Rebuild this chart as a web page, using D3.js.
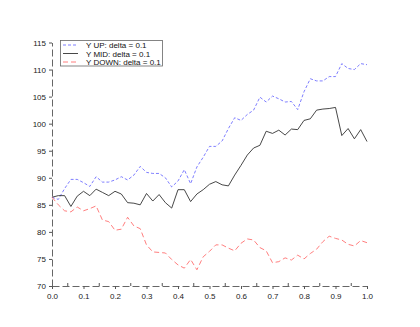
<!DOCTYPE html>
<html>
<head>
<meta charset="utf-8">
<script src="https://cdn.jsdelivr.net/npm/d3@7"></script>
<style>
  body { margin: 0; background: #fff; }
  text { font-family: "Liberation Sans", Arial, sans-serif; }
</style>
</head>
<body>
<script>
// x positions of the samples (step 0.02)
var xs = [0.00, 0.02, 0.04, 0.06, 0.08, 0.10, 0.12, 0.14, 0.16, 0.18,
          0.20, 0.22, 0.24, 0.26, 0.28, 0.30, 0.32, 0.34, 0.36, 0.38,
          0.40, 0.42, 0.44, 0.46, 0.48, 0.50, 0.52, 0.54, 0.56, 0.58,
          0.60, 0.62, 0.64, 0.66, 0.68, 0.70, 0.72, 0.74, 0.76, 0.78,
          0.80, 0.82, 0.84, 0.86, 0.88, 0.90, 0.92, 0.94, 0.96, 0.98, 1.00];

var yUp = [86.4, 86.0, 88.0, 89.7, 89.7, 89.1, 88.4, 90.2, 89.2, 89.2,
           89.6, 90.2, 89.6, 90.5, 92.1, 91.0, 90.8, 90.8, 90.0, 88.3,
           89.4, 91.5, 88.9, 92.0, 93.8, 95.8, 95.8, 96.8, 99.1, 101.1,
           100.6, 101.7, 102.5, 104.9, 104.0, 105.1, 104.6, 104.0, 104.1, 102.6,
           105.9, 108.3, 107.9, 107.9, 108.7, 108.7, 111.1, 110.2, 110.0, 111.1, 110.9];

var yMid = [86.4, 86.7, 86.7, 84.7, 86.6, 87.5, 86.7, 87.9, 87.3, 86.7,
            87.5, 87.0, 85.4, 85.3, 85.0, 87.1, 85.7, 86.9, 85.4, 84.4,
            87.8, 87.8, 85.6, 87.0, 87.8, 88.8, 89.3, 88.7, 88.5, 90.5,
            92.3, 94.2, 95.5, 96.0, 98.6, 98.2, 98.8, 97.9, 99.0, 98.9,
            100.6, 100.9, 102.5, 102.7, 102.8, 103.0, 97.8, 99.1, 97.2, 98.9, 96.7];

var yDown = [86.4, 85.0, 83.9, 83.7, 84.6, 83.9, 84.3, 84.8, 82.2, 81.9,
             80.3, 80.5, 82.7, 81.1, 80.6, 77.6, 76.3, 76.2, 76.1, 74.9,
             73.9, 73.3, 74.9, 73.0, 75.4, 76.4, 77.6, 77.6, 77.0, 76.5,
             77.9, 78.7, 78.5, 77.1, 76.5, 74.3, 74.5, 75.2, 74.8, 75.7,
             75.0, 76.0, 76.8, 78.2, 79.2, 78.8, 78.5, 77.7, 77.4, 78.4, 78.0];

var seriesNames = ["Y UP: delta = 0.1", "Y MID: delta = 0.1", "Y DOWN: delta = 0.1"];
var xTicks = [0, 0.1, 0.2, 0.3, 0.4, 0.5, 0.6, 0.7, 0.8, 0.9, 1.0];
var xMinor = [0.05, 0.15, 0.25, 0.35, 0.45, 0.55, 0.65, 0.75, 0.85, 0.95];
var yTicks = [70, 75, 80, 85, 90, 95, 100, 105, 110, 115];

var w = 420, h = 327;

var svg = d3.select("body").append("svg")
  .attr("width", w)
  .attr("height", h);

var x = d3.scaleLinear().domain([0, 1]).range([52, 367]);
var y = d3.scaleLinear().domain([70, 115]).range([286, 42.5]);

// axes
var xAxis = svg.append("g")
  .attr("transform", "translate(0,286)")
  .call(d3.axisBottom(x).tickValues(xTicks).tickSize(3).tickSizeOuter(0)
    .tickFormat(d3.format(".1f")));

var yAxis = svg.append("g")
  .attr("transform", "translate(52,0)")
  .call(d3.axisLeft(y).tickValues(yTicks).tickSize(3).tickSizeOuter(0));

// minor ticks on the x axis, pointing up
svg.append("g").selectAll("line")
  .data(xMinor)
  .enter()
  .append("line")
  .attr("x1", function(d) { return x(d); })
  .attr("x2", function(d) { return x(d); })
  .attr("y1", 286)
  .attr("y2", 283)
  .attr("stroke", "#555");

[xAxis, yAxis].forEach(function(g) {
  g.select(".domain")
    .attr("stroke", "#666")
    .attr("stroke-dasharray", "7,3");
  g.selectAll(".tick line").attr("stroke", "#555");
  g.selectAll(".tick text")
    .attr("fill", "#222")
    .style("font-size", "8px");
});
xAxis.selectAll(".tick text").attr("dy", "0.9em");

// lines
var line = d3.line()
  .x(function(d, i) { return x(xs[i]); })
  .y(function(d) { return y(d); });

var styles = [
  { data: yUp, color: "#6f6fff", dash: "3,2" },
  { data: yMid, color: "#333333", dash: null },
  { data: yDown, color: "#ff6f6f", dash: "5,3" }
];

styles.forEach(function(s) {
  svg.append("path")
    .datum(s.data)
    .attr("fill", "none")
    .attr("stroke", s.color)
    .attr("stroke-width", 0.9)
    .attr("stroke-dasharray", s.dash)
    .attr("d", line);
});

// legend
var legend = svg.append("g").attr("transform", "translate(60,40)");
legend.append("rect")
  .attr("x", 0.5)
  .attr("y", 0.5)
  .attr("width", 102)
  .attr("height", 25.5)
  .attr("fill", "#fff")
  .attr("stroke", "#666")
  .attr("stroke-width", 0.8);

var items = legend.selectAll("g.item")
  .data(seriesNames)
  .enter()
  .append("g")
  .attr("transform", function(d, i) {
    return "translate(0," + (5 + i * 8.5) + ")";
  });

items.append("line")
  .attr("x1", 3)
  .attr("x2", 18)
  .attr("y1", 0)
  .attr("y2", 0)
  .attr("stroke", function(d, i) { return styles[i].color; })
  .attr("stroke-width", 0.9)
  .attr("stroke-dasharray", function(d, i) { return styles[i].dash; });

items.append("text")
  .text(function(d) { return d; })
  .attr("x", 26)
  .attr("y", 3)
  .attr("fill", "#111")
  .style("font-size", "8px");
</script>
</body>
</html>
